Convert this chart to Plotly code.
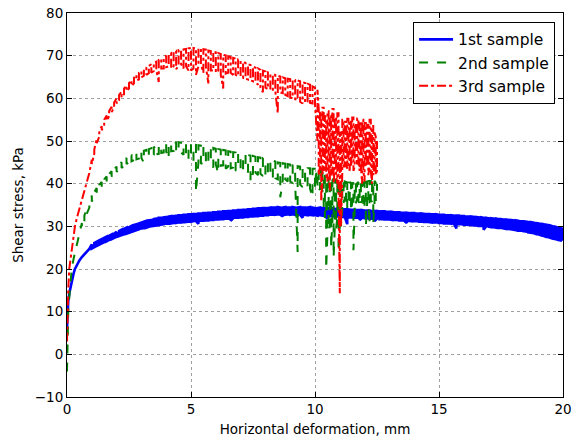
import numpy as np
import plotly.graph_objects as go

# ---------------- data ----------------
# Noisy records are described by their upper and lower edges (hi / lo) sampled on a regular grid.

# 1st sample
s1_x_head = [0, 0.02, 0.05, 0.1, 0.15, 0.2, 0.26, 0.32, 0.4, 0.5, 0.6, 0.7, 0.8, 0.9]
s1_y_head = [6, 10, 12.5, 14.5, 16, 17.5, 18.8, 20, 21, 22, 22.8, 23.5, 24.1, 24.7]
s1_start, s1_step = 1.0, 0.1
s1_hi = [
    25.8, 26.1, 26.4, 26.7, 27.0, 27.3, 27.6, 27.8, 28.1, 28.3,
    28.7, 28.9, 29.2, 29.4, 29.7, 29.8, 30.1, 30.3, 30.5, 30.7,
    30.9, 31.1, 31.3, 31.4, 31.5, 31.7, 31.8, 32.0, 32.0, 32.1,
    32.2, 32.3, 32.4, 32.4, 32.5, 32.6, 32.6, 32.7, 32.7, 32.8,
    32.8, 32.9, 32.9, 33.0, 33.0, 33.1, 33.1, 33.2, 33.2, 33.3,
    33.3, 33.4, 33.4, 33.5, 33.5, 33.6, 33.6, 33.7, 33.7, 33.8,
    33.8, 33.9, 33.9, 34.0, 34.0, 34.1, 34.1, 34.2, 34.2, 34.3,
    34.3, 34.3, 34.4, 34.4, 34.4, 34.5, 34.4, 34.4, 34.5, 34.4,
    34.4, 34.5, 34.4, 34.4, 34.5, 34.4, 34.4, 34.4, 34.5, 34.4,
    34.3, 34.3, 34.4, 34.3, 34.2, 34.2, 34.3, 34.2, 34.1, 34.1,
    34.1, 34.0, 34.0, 34.0, 33.9, 33.9, 33.9, 33.8, 33.8, 33.8,
    33.7, 33.7, 33.7, 33.6, 33.6, 33.6, 33.5, 33.5, 33.5, 33.4,
    33.4, 33.4, 33.3, 33.3, 33.3, 33.2, 33.2, 33.2, 33.1, 33.1,
    33.1, 33.0, 33.0, 33.0, 32.9, 32.9, 32.9, 32.8, 32.8, 32.8,
    32.7, 32.7, 32.7, 32.6, 32.6, 32.6, 32.5, 32.5, 32.5, 32.4,
    32.4, 32.3, 32.3, 32.3, 32.2, 32.2, 32.1, 32.1, 32.0, 32.0,
    31.9, 31.9, 31.8, 31.8, 31.7, 31.7, 31.6, 31.6, 31.5, 31.5,
    31.4, 31.4, 31.3, 31.2, 31.2, 31.1, 31.0, 31.0, 30.9, 30.8,
    30.7, 30.6, 30.5, 30.4, 30.3, 30.2, 30.0, 29.9, 29.7, 29.6,
    29.4,
]
s1_lo = [
    24.8, 25.1, 25.4, 25.7, 26.0, 26.3, 26.5, 26.8, 27.0, 27.3,
    27.5, 27.7, 27.9, 28.1, 28.3, 28.5, 28.7, 28.9, 29.1, 29.3,
    29.5, 29.6, 29.7, 29.9, 30.0, 30.1, 30.2, 30.3, 30.4, 30.5,
    30.6, 30.6, 30.7, 30.8, 30.8, 30.9, 30.9, 31.0, 31.0, 31.1,
    31.1, 31.2, 31.2, 30.6, 31.3, 31.3, 31.4, 31.4, 31.5, 31.5,
    31.6, 31.6, 31.7, 31.7, 31.8, 31.8, 31.3, 31.9, 32.0, 32.0,
    32.1, 32.1, 32.2, 32.2, 32.3, 32.3, 32.4, 32.4, 32.5, 32.5,
    32.6, 32.6, 32.7, 32.7, 32.7, 32.8, 32.7, 32.3, 32.7, 32.8,
    32.7, 32.8, 32.7, 32.6, 32.7, 32.0, 32.7, 32.6, 32.7, 32.6,
    32.6, 32.5, 32.6, 32.5, 32.4, 31.8, 32.4, 32.4, 32.3, 32.3,
    32.3, 32.2, 32.2, 30.5, 32.1, 32.1, 32.0, 32.0, 31.5, 32.0,
    31.9, 31.9, 31.8, 31.8, 31.2, 31.8, 31.7, 31.7, 31.6, 31.6,
    31.6, 31.5, 31.5, 31.5, 31.4, 31.4, 31.3, 30.8, 31.3, 31.2,
    31.2, 31.2, 31.1, 31.1, 31.0, 31.0, 31.0, 30.9, 30.9, 30.9,
    30.8, 30.8, 30.7, 30.7, 30.7, 30.6, 30.6, 29.5, 30.5, 30.5,
    30.4, 30.4, 30.3, 30.3, 30.2, 30.2, 30.1, 30.1, 29.2, 30.0,
    29.9, 29.8, 29.8, 29.7, 29.6, 29.6, 29.5, 29.4, 29.4, 29.3,
    29.2, 29.1, 29.0, 29.0, 28.9, 28.8, 28.6, 28.5, 28.4, 28.2,
    28.1, 27.9, 27.8, 27.6, 27.5, 27.3, 27.1, 27.0, 26.8, 26.7,
    26.6,
]

# 2nd sample
s2_x_head = [0, 0.01, 0.02, 0.05, 0.1, 0.15, 0.19, 0.27, 0.36, 0.47]
s2_y_head = [-4, 2, 6, 10, 14, 17.5, 20, 22.5, 25, 27.5]
s2_start, s2_step = 0.6, 0.1
s2_hi = [
    30.8, 32.5, 34.2, 35.6, 37.2, 38.0, 39.0, 39.7, 40.4, 41.0,
    41.7, 42.3, 42.9, 43.4, 44.0, 44.5, 45.0, 45.5, 46.0, 46.3,
    46.6, 46.9, 47.1, 47.3, 47.5, 47.7, 47.9, 48.1, 48.3, 48.5,
    48.7, 48.9, 49.1, 49.3, 49.5, 49.5, 49.6, 49.7, 49.6, 49.7,
    49.6, 49.5, 49.5, 49.4, 49.3, 49.2, 49.1, 49.0, 48.9, 48.8,
    48.7, 48.6, 48.5, 48.4, 48.2, 48.1, 48.0, 47.9, 47.8, 47.6,
    47.5, 47.4, 47.3, 47.2, 47.0, 46.9, 46.8, 46.7, 46.6, 46.5,
    46.3, 46.2, 46.1, 46.0, 45.8, 45.7, 45.5, 45.4, 45.2, 45.0,
    44.9, 44.8, 44.7, 44.6, 44.5, 44.3, 44.2, 44.1, 44.0, 43.8,
    43.7, 43.6, 43.6, 43.5, 43.5,
]
s2_lo = [
    29.6, 31.3, 33.0, 34.4, 35.8, 36.8, 37.8, 38.5, 39.2, 39.8,
    40.5, 41.1, 41.7, 42.2, 42.8, 43.2, 43.7, 44.2, 44.6, 45.0,
    45.2, 45.5, 45.7, 45.9, 46.0, 44.9, 46.3, 46.4, 46.6, 46.8,
    46.9, 47.0, 47.2, 47.3, 47.5, 45.8, 47.6, 47.7, 47.2, 47.8,
    47.3, 46.8, 46.5, 45.5, 46.0, 45.3, 38.0, 45.0, 44.8, 44.6,
    45.0, 44.4, 44.6, 43.8, 44.5, 42.4, 44.2, 44.3, 43.5, 44.0,
    43.6, 43.8, 43.0, 43.4, 42.6, 43.0, 42.8, 42.8, 40.4, 42.5,
    42.6, 42.0, 42.3, 41.8, 42.0, 41.5, 41.7, 41.2, 41.3, 41.0,
    36.8, 40.8, 41.0, 40.5, 40.5, 40.2, 40.2, 24.0, 39.8, 39.2,
    39.4, 39.0, 38.8, 36.8, 38.6,
]
s2_end_start, s2_end_step = 10.05, 0.05
s2_end_hi = [
    43.4, 43.3, 43.2, 43.0, 43.0, 42.8, 42.5, 42.0, 41.8, 41.5,
    41.5, 41.2, 41.0, 40.8, 41.2, 41.0, 40.8, 40.5, 41.0, 41.0,
    40.5, 40.3, 40.5, 40.5, 40.4, 40.2, 40.4, 40.4, 40.2, 40.0,
    40.3, 40.3, 40.1, 40.1, 40.4, 40.4, 40.2, 40.2, 40.3, 40.3,
    40.5, 40.5, 40.6, 40.6, 40.6, 40.7, 40.7, 40.7, 40.2, 40.0,
]
s2_end_lo = [
    39.5, 39.0, 38.8, 38.6, 39.2, 38.0, 35.0, 32.0, 20.0, 28.0,
    29.0, 30.0, 25.0, 31.0, 22.7, 30.0, 29.5, 32.0, 24.0, 30.0,
    30.0, 34.0, 35.5, 36.5, 36.0, 34.0, 35.0, 36.0, 33.5, 35.5,
    24.4, 34.0, 35.4, 36.5, 36.0, 35.0, 35.5, 36.0, 34.0, 35.0,
    30.0, 35.0, 35.2, 30.5, 36.0, 35.8, 31.0, 35.5, 36.0, 37.0,
]

# 3rd sample
s3_x_head = [0, 0.01, 0.02, 0.05, 0.09, 0.14, 0.2, 0.26, 0.32, 0.4, 0.48, 0.55, 0.62, 0.7, 0.79, 0.9]
s3_y_head = [3, 7, 10, 15, 20, 22.5, 25, 27.5, 30, 32, 33.7, 35, 36.5, 38.3, 40, 42.5]
s3_start, s3_step = 1.0, 0.1
s3_hi = [
    45.6, 48.0, 50.5, 52.0, 53.5, 55.0, 56.0, 57.0, 58.0, 59.0,
    60.0, 60.8, 61.5, 62.3, 63.0, 63.6, 64.2, 64.8, 65.5, 66.0,
    66.4, 66.8, 67.2, 67.6, 68.0, 68.3, 68.6, 69.0, 69.3, 69.6,
    70.0, 70.3, 70.6, 70.9, 71.1, 71.3, 71.4, 71.5, 71.6, 71.7,
    71.8, 71.8, 71.7, 71.7, 71.6, 71.5, 71.4, 71.2, 71.1, 71.0,
    70.8, 70.6, 70.4, 70.2, 70.1, 69.9, 69.7, 69.5, 69.3, 69.1,
    68.9, 68.6, 68.3, 68.0, 67.8, 67.5, 67.2, 67.0, 66.7, 66.5,
    66.3, 66.1, 65.9, 65.7, 65.5, 65.3, 65.1, 64.9, 64.7, 64.6,
    64.5, 64.4, 64.3, 64.2, 64.0, 63.8, 63.6, 63.4, 63.2, 62.8,
    62.5, 62.0,
]
s3_lo = [
    44.6, 47.0, 49.5, 51.0, 52.5, 53.8, 54.8, 55.8, 56.8, 57.8,
    58.8, 59.5, 60.2, 61.0, 61.7, 62.3, 62.9, 63.5, 64.2, 64.4,
    64.9, 65.3, 65.5, 65.9, 66.0, 66.4, 66.6, 63.8, 67.0, 67.0,
    67.3, 67.5, 67.0, 67.5, 66.8, 67.8, 68.0, 67.0, 67.5, 66.5,
    66.5, 67.0, 65.5, 67.5, 68.0, 66.0, 67.5, 63.5, 66.5, 66.5,
    66.0, 66.5, 65.5, 62.3, 65.8, 66.0, 66.0, 65.5, 65.5, 65.2,
    65.0, 64.8, 64.6, 64.4, 64.2, 64.0, 63.8, 63.2, 62.5, 61.4,
    62.5, 62.2, 62.0, 61.8, 61.6, 56.5, 61.4, 61.2, 60.8, 60.5,
    60.2, 60.0, 59.8, 59.6, 59.2, 58.8, 59.0, 59.2, 58.9, 58.8,
    58.5, 50.0,
]
s3_end_start, s3_end_step = 10.15, 0.05
s3_end_hi = [
    57.5, 57.0, 56.5, 57.8, 57.8, 56.0, 55.0, 57.0, 57.0, 56.0,
    56.0, 57.5, 57.5, 55.5, 55.5, 56.5, 56.5, 52.0, 52.0, 55.0,
    55.0, 54.5, 54.5, 55.2, 55.2, 54.8, 54.8, 55.5, 55.5, 54.0,
    54.0, 55.3, 55.3, 54.6, 54.6, 55.0, 55.0, 54.2, 54.2, 53.8,
    53.8, 55.0, 55.0, 53.5, 53.5, 52.0, 51.0, 50.0,
]
s3_end_lo = [
    42.0, 44.0, 36.0, 41.0, 43.0, 44.0, 42.0, 40.5, 44.0, 38.4,
    42.0, 43.0, 40.0, 44.0, 42.0, 40.0, 38.0, 14.3, 30.0, 42.5,
    44.0, 44.0, 45.0, 43.5, 44.5, 43.0, 44.0, 46.0, 43.0, 44.0,
    47.0, 44.5, 45.0, 43.0, 44.0, 40.0, 43.0, 40.5, 44.0, 45.0,
    42.0, 44.0, 43.0, 40.0, 42.0, 44.0, 42.0, 43.0,
]

series_names = ["1st sample", "2nd sample", "3rd sample"]
x_ticks = [0, 5, 10, 15, 20]
y_ticks = [-10, 0, 10, 20, 30, 40, 50, 60, 70, 80]


def band(start, step, hi, lo):
    """Trace the noisy record: at each sample go through its upper and lower edge."""
    xs, ys = [], []
    for i, (h, l) in enumerate(zip(hi, lo)):
        xv = round(start + step * i, 3)
        xs += [xv, xv]
        ys += [h, l] if i % 2 == 0 else [l, h]
    return xs, ys


bx1, by1 = band(s1_start, s1_step, s1_hi, s1_lo)
x1, y1 = s1_x_head + bx1, s1_y_head + by1

bx2a, by2a = band(s2_start, s2_step, s2_hi, s2_lo)
bx2b, by2b = band(s2_end_start, s2_end_step, s2_end_hi, s2_end_lo)
x2, y2 = s2_x_head + bx2a + bx2b, s2_y_head + by2a + by2b

bx3a, by3a = band(s3_start, s3_step, s3_hi, s3_lo)
bx3b, by3b = band(s3_end_start, s3_end_step, s3_end_hi, s3_end_lo)
x3, y3 = s3_x_head + bx3a + bx3b, s3_y_head + by3a + by3b

# ---------------- figure ----------------
fig = go.Figure()
fig.add_trace(go.Scatter(x=x1, y=y1, mode="lines", name=series_names[0],
                         line=dict(color="#0000ff", width=2.6, dash="solid")))
fig.add_trace(go.Scatter(x=x2, y=y2, mode="lines", name=series_names[1],
                         line=dict(color="#008000", width=2, dash="dash")))
fig.add_trace(go.Scatter(x=x3, y=y3, mode="lines", name=series_names[2],
                         line=dict(color="#ff0000", width=2, dash="dashdot")))

axis_common = dict(
    showline=True, linecolor="black", linewidth=1, mirror="ticks",
    ticks="inside", ticklen=5, tickcolor="black", tickwidth=1,
    showgrid=True, gridcolor="#a0a0a0", griddash="dot", gridwidth=1,
    zeroline=False, tickfont=dict(size=13.5, color="black"),
    automargin=False,
)

fig.update_xaxes(range=[0, 20], tickvals=x_ticks,
                 title=dict(text="Horizontal deformation, mm", font=dict(size=13.5, color="black"), standoff=8),
                 **axis_common)
fig.update_yaxes(range=[-10, 80], tickvals=y_ticks,
                 title=dict(text="Shear stress, kPa", font=dict(size=13.5, color="black"), standoff=8),
                 **axis_common)

fig.update_layout(
    width=577, height=440,
    margin=dict(l=67, r=14, t=13, b=43),
    paper_bgcolor="white", plot_bgcolor="white",
    font=dict(family="DejaVu Sans", size=13.5, color="black"),
    showlegend=True,
    legend=dict(x=0.984, y=0.977, xanchor="right", yanchor="top",
                bgcolor="white", bordercolor="black", borderwidth=1,
                font=dict(size=15.5), tracegroupgap=0, itemwidth=34),
)

# remove the page's default body margin so the figure sits at the window's corner
fig.write_html("out.html", config={"displayModeBar": False},
               post_script="document.body.style.margin='0px';")
